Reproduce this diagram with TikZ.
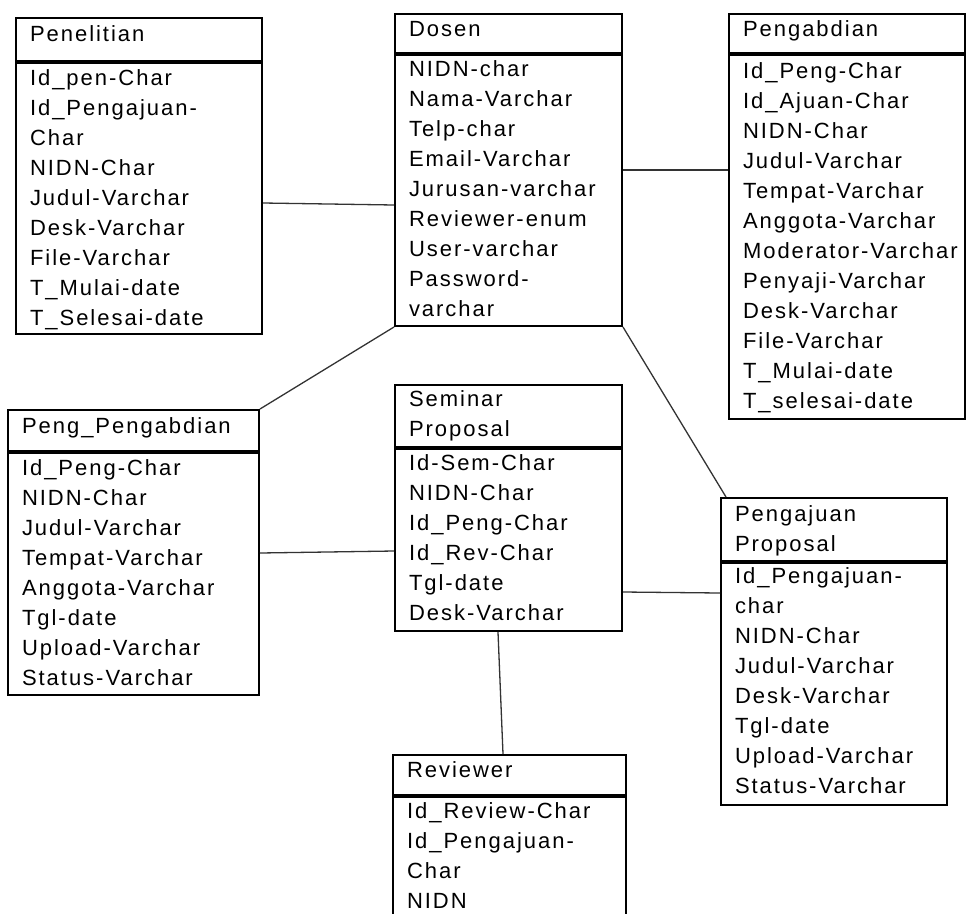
\documentclass[tikz,border=0pt]{standalone}
\usepackage{fontspec}
\setmainfont{Liberation Sans}[LetterSpace=9]
\usetikzlibrary{positioning}
\tikzset{
  tabel/.style={draw,line width=2pt,inner xsep=14pt,inner ysep=0pt,align=left,
    font={\fontsize{22}{30}\selectfont\exhyphenpenalty=10000\hyphenpenalty=10000}},
  kepala/.style={tabel,anchor=north west,text height=22pt},
  isi/.style={tabel,anchor=north,text height=21pt},
  relasi/.style={line width=1.3pt,black!80},
}

\begin{document}
\begin{tikzpicture}[x=1pt,y=-1pt]
  \useasboundingbox (0,0) rectangle (966,913);
  % tabel Penelitian
  \node[kepala,text width=218pt,text height=23pt,text depth=20pt] (penH) at (15,17) {Penelitian};
  \node[isi,text width=218pt,text height=22pt,text depth=249pt,below=0pt of penH] (penB)
    {Id\_pen-Char\\Id\_Pengajuan-\\Char\\NIDN-Char\\Judul-Varchar\\Desk-Varchar\\File-Varchar\\T\_Mulai-date\\T\_Selesai-date};
  % tabel Dosen
  \node[kepala,text width=199pt,text depth=17pt] (dosH) at (394,13) {Dosen};
  \node[isi,text width=199pt,text depth=250pt,below=0pt of dosH] (dosB)
    {NIDN-char\\Nama-Varchar\\Telp-char\\Email-Varchar\\Jurusan-varchar\\Reviewer-enum\\User-varchar\\Password-\\varchar};
  % tabel Pengabdian
  \node[kepala,text width=208pt,text depth=17pt] (pabH) at (728,13) {Pengabdian};
  \node[isi,text width=208pt,text height=23pt,text depth=341pt,below=0pt of pabH] (pabB)
    {Id\_Peng-Char\\Id\_Ajuan-Char\\NIDN-Char\\Judul-Varchar\\Tempat-Varchar\\Anggota-Varchar\\Moderator-Varchar\\Penyaji-Varchar\\Desk-Varchar\\File-Varchar\\T\_Mulai-date\\T\_selesai-date};
  % tabel Peng_Pengabdian
  \node[kepala,text width=223pt,text height=23pt,text depth=18pt] (ppgH) at (7,409) {Peng\_Pengabdian};
  \node[isi,text width=223pt,text height=22pt,text depth=220pt,below=0pt of ppgH] (ppgB)
    {Id\_Peng-Char\\NIDN-Char\\Judul-Varchar\\Tempat-Varchar\\Anggota-Varchar\\Tgl-date\\Upload-Varchar\\Status-Varchar};
  % tabel Seminar Proposal
  \node[kepala,text width=199pt,text height=21pt,text depth=41pt] (semH) at (394,384) {Seminar\\Proposal};
  \node[isi,text width=199pt,text depth=161pt,below=0pt of semH] (semB)
    {Id-Sem-Char\\NIDN-Char\\Id\_Peng-Char\\Id\_Rev-Char\\Tgl-date\\Desk-Varchar};
  % tabel Pengajuan Proposal
  \node[kepala,text width=198pt,text height=23pt,text depth=40pt] (pajH) at (720,497) {Pengajuan\\Proposal};
  \node[isi,text width=198pt,text height=20pt,text depth=222pt,below=0pt of pajH] (pajB)
    {Id\_Pengajuan-\\char\\NIDN-Char\\Judul-Varchar\\Desk-Varchar\\Tgl-date\\Upload-Varchar\\Status-Varchar};
  % tabel Reviewer (terpotong di bawah)
  \node[kepala,text width=205pt,text depth=18pt] (revH) at (392,754) {Reviewer};
  \node[isi,text width=205pt,text depth=200pt,below=0pt of revH] (revB)
    {Id\_Review-Char\\Id\_Pengajuan-\\Char\\NIDN};
  % relasi
  \draw[relasi] ([yshift=-4.5pt]penB.east) -- ([yshift=-14.5pt]dosB.west);
  \draw[relasi] ([yshift=20.5pt]dosB.east) -- ([yshift=67pt]pabB.west);
  \draw[relasi] (dosB.south west) -- (ppgH.north east);
  \draw[relasi] (dosB.south east) -- ([xshift=6pt]pajH.north west);
  \draw[relasi] ([yshift=21pt]ppgB.east) -- ([yshift=-11pt]semB.west);
  \draw[relasi] ([yshift=-52pt]semB.east) -- ([yshift=91pt]pajB.west);
  \draw[relasi] ([xshift=-10.5pt]semB.south) -- ([xshift=-6.5pt]revH.north);
\end{tikzpicture}
\end{document}
